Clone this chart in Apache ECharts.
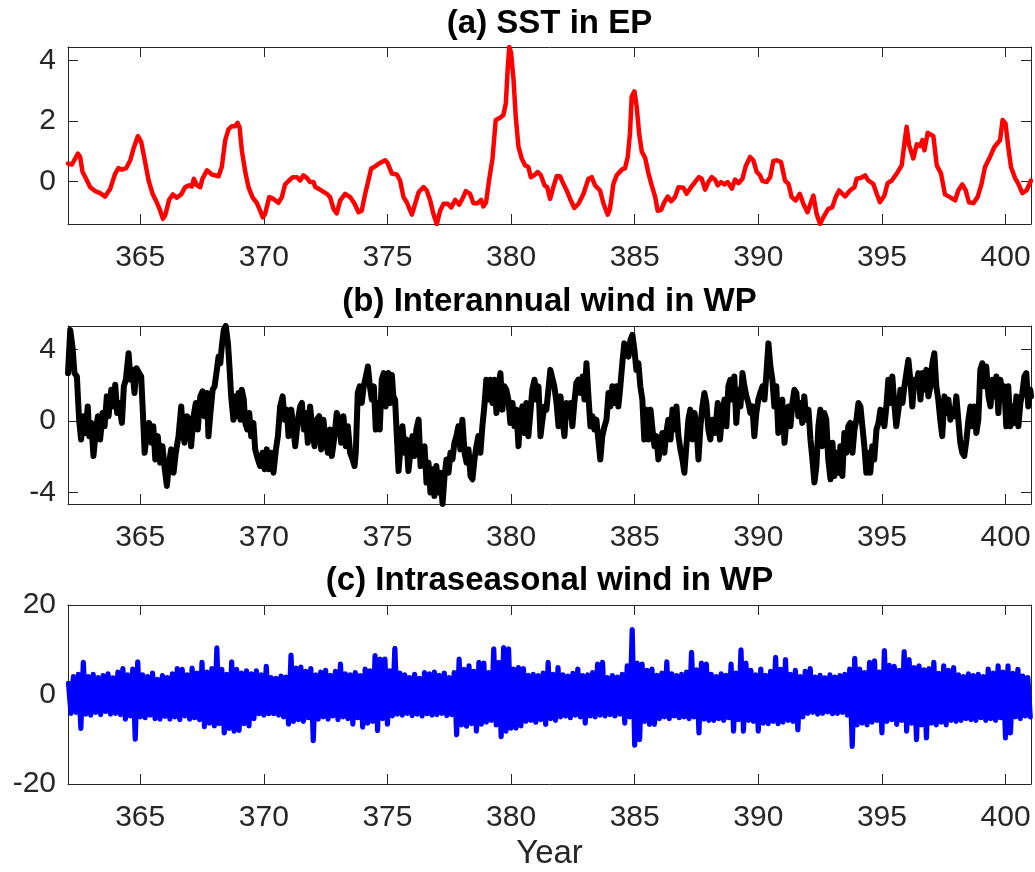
<!DOCTYPE html>
<html><head><meta charset="utf-8">
<script src="https://cdn.jsdelivr.net/npm/echarts@6/dist/echarts.min.js"></script>
<style>html,body{margin:0;padding:0;background:#fff}#c{width:1035px;height:872px}</style>
</head><body><div id="c"></div>
<script>
// ---- tick labels ----
const xTickYears = [365, 370, 375, 380, 385, 390, 395, 400];
const sstTicks = [0, 2, 4];
const interTicks = [-4, 0, 4];
const intraTicks = [-20, 0, 20];

// ---- titles ----
const panelTitles = ['(a) SST in EP', '(b) Interannual wind in WP', '(c) Intraseasonal wind in WP'];
const xLabel = 'Year';

// ---- (a) SST in EP: [year, value] ----
const sstSeries = [
[362.08,0.59],[362.24,0.56],[362.48,0.92],[362.57,0.81],[362.67,0.31],[362.78,0.14],[362.98,-0.19],[363.18,-0.32],[363.38,-0.39],[363.58,-0.5],
[363.79,-0.24],[363.99,0.26],[364.12,0.44],[364.26,0.39],[364.43,0.44],[364.6,0.7],[364.73,1.09],[364.91,1.5],[365.04,1.31],[365.2,0.64],
[365.34,0.03],[365.5,-0.41],[365.67,-0.69],[365.81,-0.97],[365.92,-1.24],[366.01,-1.13],[366.17,-0.61],[366.32,-0.43],[366.48,-0.54],[366.66,-0.43],
[366.82,-0.19],[366.98,-0.13],[367.09,-0.17],[367.17,0.09],[367.29,-0.13],[367.43,-0.19],[367.52,0.09],[367.7,0.37],[367.9,0.23],[368.17,0.17],
[368.3,0.48],[368.44,1.37],[368.57,1.72],[368.71,1.83],[368.84,1.83],[368.94,1.94],[369.02,1.79],[369.11,1.03],[369.25,0.31],[369.38,-0.19],
[369.54,-0.52],[369.72,-0.72],[369.85,-0.97],[369.96,-1.19],[370.05,-1.08],[370.22,-0.52],[370.39,-0.58],[370.59,-0.71],[370.73,-0.52],[370.86,-0.1],
[371.02,0.03],[371.17,0.14],[371.34,0.14],[371.47,0.03],[371.6,0.2],[371.74,0.12],[371.87,-0.02],[372.01,-0.02],[372.08,-0.19],[372.21,-0.24],
[372.37,-0.32],[372.55,-0.41],[372.68,-0.52],[372.82,-0.91],[372.95,-1.06],[373.09,-0.63],[373.29,-0.41],[373.49,-0.52],[373.67,-0.74],[373.83,-1.02],
[373.96,-0.97],[374.1,-0.41],[374.23,0.03],[374.34,0.42],[374.5,0.5],[374.7,0.61],[374.91,0.7],[375.0,0.62],
[375.18,0.26],[375.38,0.23],[375.51,0.03],[375.65,-0.52],[375.78,-0.69],[375.99,-1.1],[376.12,-0.74],[376.26,-0.36],[376.46,-0.19],[376.59,-0.3],
[376.73,-0.63],[376.86,-1.08],[377.0,-1.41],[377.13,-0.97],[377.27,-0.74],[377.44,-0.74],[377.58,-0.86],[377.74,-0.61],[377.9,-0.77],[378.03,-0.58],
[378.17,-0.32],[378.34,-0.41],[378.48,-0.72],[378.65,-0.72],[378.79,-0.61],[378.88,-0.83],[378.99,-0.69],[379.11,0.03],[379.25,0.76],[379.38,2.03],
[379.56,2.11],[379.69,2.2],[379.79,2.59],[379.87,3.81],[379.93,4.45],[380.0,4.26],[380.1,3.37],[380.19,2.14],[380.3,1.14],[380.43,0.76],
[380.57,0.53],[380.7,0.48],[380.8,0.14],[380.93,0.2],[381.08,0.31],[381.21,0.2],[381.35,-0.13],[381.46,-0.19],[381.58,-0.58],[381.71,-0.19],
[381.85,0.18],[381.98,0.17],[382.12,-0.08],[382.25,-0.3],[382.39,-0.58],[382.56,-0.88],[382.73,-0.74],[382.93,-0.41],[383.13,0.09],[383.26,0.14],
[383.4,-0.13],[383.6,-0.3],[383.74,-0.74],[383.91,-1.1],[384.0,-0.91],[384.14,-0.08],[384.27,0.2],[384.48,0.39],[384.61,0.44],[384.72,0.81],
[384.81,1.59],[384.88,2.81],[384.99,2.98],[385.08,2.48],[385.18,1.59],[385.29,0.98],[385.42,0.79],[385.56,0.26],[385.69,-0.13],[385.83,-0.52],
[385.93,-0.97],[386.07,-0.94],[386.2,-0.69],[386.34,-0.5],[386.47,-0.66],[386.63,-0.52],[386.77,-0.19],[386.97,-0.21],[387.1,-0.41],[387.28,-0.19],
[387.44,-0.02],[387.6,0.14],[387.71,0.09],[387.85,-0.27],
[387.98,-0.02],[388.12,0.14],[388.25,0.06],[388.36,-0.13],[388.49,-0.02],[388.63,-0.1],[388.76,-0.02],[388.93,-0.24],[389.06,0.06],[389.2,-0.06],
[389.36,0.09],[389.49,0.5],[389.67,0.81],[389.8,0.7],[389.94,0.31],[390.07,0.2],[390.17,0.01],[390.34,-0.02],[390.48,0.14],[390.61,0.68],
[390.75,0.7],[390.92,0.64],[391.08,0.03],[391.22,-0.08],[391.35,-0.52],[391.51,-0.63],[391.68,-0.41],[391.82,-0.74],[391.99,-1.02],[392.11,-0.74],
[392.23,-0.47],[392.36,-1.08],[392.5,-1.41],[392.63,-1.19],[392.83,-0.91],[392.99,-0.86],[393.13,-0.52],[393.27,-0.3],[393.51,-0.5],[393.71,-0.3],
[393.89,-0.19],[393.98,0.09],[394.16,0.12],[394.32,0.2],[394.45,0.03],[394.65,-0.08],[394.79,-0.41],[394.92,-0.69],[395.1,-0.47],[395.23,-0.06],
[395.4,0.03],[395.6,0.26],[395.8,0.53],[395.91,1.26],[396.0,1.81],[396.1,1.2],[396.27,0.76],[396.41,1.23],[396.54,1.17],[396.64,1.37],
[396.72,1.03],[396.85,1.61],[397.08,1.5],[397.22,0.53],[397.39,0.26],[397.55,-0.43],[397.75,-0.52],[397.96,-0.63],[398.09,-0.3],[398.25,-0.1],
[398.39,-0.3],[398.52,-0.69],[398.7,-0.72],[398.87,-0.52],[399.03,-0.08],[399.17,0.48],[399.37,0.81],[399.55,1.14],[399.78,1.37],[399.88,2.03],
[400.0,1.92],[400.11,1.14],[400.22,0.48],[400.38,0.12],[400.52,-0.08],[400.68,-0.39],[400.85,-0.3],[401.03,0.03]
];

// ---- (b) Interannual wind in WP: [year, value] ----
const interSeries = [
[362.08,2.67],[362.17,5.07],[362.26,4.15],[362.34,2.67],[362.44,2.48],[362.48,1.37],[362.53,0.07],[362.61,-1.04],[362.71,0.26],[362.78,-0.67],
[362.88,0.81],[362.94,-0.85],[363.02,-0.11],[363.11,-1.96],[363.21,-0.48],[363.29,0.26],[363.38,-1.04],[363.48,0.44],[363.56,-0.3],[363.65,1.37],
[363.72,0.26],[363.83,1.74],[363.92,0.81],[363.99,2.02],[364.07,0.44],[364.15,1.0],[364.26,-0.11],[364.34,1.93],[364.42,2.3],[364.53,3.78],
[364.61,2.3],[364.69,2.85],[364.77,1.56],[364.85,2.94],[364.96,2.67],[365.04,2.48],[365.11,0.44],[365.18,-1.78],[365.27,-0.67],[365.36,-0.11],
[365.45,-1.22],[365.53,-0.3],[365.61,-2.15],[365.71,-0.85],[365.81,-2.33],[365.9,-1.41],[365.98,-2.52],[366.08,-3.63],[366.17,-2.33],[366.25,-1.59],
[366.35,-2.89],[366.44,-1.78],[366.55,-0.85],[366.66,0.81],[366.71,-0.3],[366.79,-1.22],[366.89,0.26],[366.98,0.07],[367.06,-1.41],[367.16,0.26],
[367.25,1.0],[367.33,-0.48],[367.43,1.37],[367.52,1.65],[367.6,0.26],[367.7,1.56],[367.76,-0.85],[367.84,0.44],[367.93,1.74],[368.01,1.93],
[368.1,2.85],[368.17,3.59],[368.24,3.22],[368.3,4.15],[368.38,5.07],[368.46,5.3],[368.55,4.33],[368.61,3.04],[368.68,1.37],[368.77,0.07],
[368.84,1.37],[368.91,0.26],[368.98,1.56],[369.06,0.07],[369.11,1.74],[369.19,1.19],[369.25,-0.11],[369.33,-0.48],[369.41,0.44],[369.49,-0.85],
[369.58,-0.11],[369.65,-1.59],[369.76,-2.15],[369.85,-2.52],[369.95,-1.78],[370.03,-2.7],[370.12,-1.59],[370.19,-2.7],[370.3,-1.78],[370.39,-2.89],
[370.49,-1.59],[370.57,-0.85],[370.66,0.81],[370.76,1.37],[370.84,0.07],[370.93,0.63],[371.0,-0.85],[371.11,0.63],[371.2,-0.48],[371.27,-1.41],
[371.38,0.07],[371.47,0.81],[371.54,1.0],[371.62,-0.48],[371.7,0.44],[371.78,-1.22],[371.87,0.81],[371.97,-0.48],[372.05,-1.41],[372.14,0.07],
[372.24,0.26],[372.32,-1.59],[372.41,0.07],[372.48,-0.85],[372.59,-1.78],[372.68,-0.48],[372.75,-1.96],[372.86,-0.85],[372.95,0.44],[373.05,0.07],
[373.13,-1.22],[373.22,0.26],[373.32,-1.41],[373.4,-0.3],[373.49,-1.78],[373.59,-2.15],[373.67,-2.52],[373.72,-1.78],[373.8,1.56],[373.88,1.93],
[373.96,1.0],[374.04,1.93],[374.13,2.48],[374.21,3.04],[374.29,1.93],[374.37,1.19],[374.45,1.93],[374.53,-0.48],[374.61,1.0],[374.69,-0.48],
[374.77,2.3],[374.85,2.67],[374.93,0.81],
[375.04,2.67],[375.11,1.0],[375.18,2.57],[375.24,1.37],[375.31,1.19],[375.38,-0.85],
[375.45,-2.8],[375.53,-1.41],[375.61,-0.3],[375.69,-1.78],[375.77,-1.04],[375.85,-2.8],[375.93,-1.78],[376.01,-0.85],[376.09,-1.96],[376.17,-0.48],
[376.26,0.07],[376.34,-2.52],[376.42,-2.15],[376.5,-1.41],[376.58,-3.44],[376.66,-2.33],[376.74,-4.0],[376.82,-2.7],[376.9,-4.19],[376.98,-2.52],
[377.06,-4.0],[377.14,-2.89],[377.23,-4.64],[377.31,-3.07],[377.39,-2.15],[377.47,-2.89],[377.55,-1.78],[377.63,-2.15],[377.71,-1.22],[377.79,-0.85],
[377.87,-0.3],[377.95,-1.59],[378.03,0.07],[378.12,-1.78],[378.2,-2.33],[378.28,-1.59],[378.36,-3.07],[378.44,-3.26],[378.52,-2.15],[378.6,-1.41],
[378.68,-0.85],[378.76,-1.78],[378.84,-0.3],[378.92,0.81],[379.0,2.3],[379.09,1.19],[379.17,2.3],[379.25,1.0],[379.33,2.3],[379.41,0.44],
[379.49,1.93],[379.57,2.67],[379.65,0.63],[379.73,1.93],[379.81,1.74],[379.89,1.19],[379.97,-0.11],[380.06,1.0],[380.14,-0.3],[380.22,0.63],
[380.3,-1.41],[380.38,0.26],[380.46,0.81],[380.54,-0.67],[380.62,1.0],[380.7,-0.85],[380.78,0.44],[380.86,1.74],[380.95,2.3],[381.03,1.19],
[381.11,1.93],[381.19,-0.85],[381.27,0.07],[381.35,0.81],[381.43,0.63],[381.51,1.74],[381.59,2.85],[381.67,2.85],[381.75,1.93],[381.84,1.0],
[381.92,-0.3],[382.0,1.37],[382.08,0.07],[382.16,-0.85],[382.24,1.0],[382.32,0.26],[382.4,1.0],[382.48,-0.3],[382.56,1.0],[382.64,2.11],
[382.72,2.3],[382.81,1.56],[382.89,2.48],[382.97,1.19],[383.05,3.22],[383.13,1.37],[383.21,-0.3],[383.29,0.26],[383.37,-0.48],[383.45,0.07],
[383.53,-1.04],[383.61,-2.15],[383.69,-0.85],[383.78,-0.3],[383.86,0.07],[383.94,1.56],[384.02,0.81],[384.1,1.93],[384.18,1.0],[384.26,1.93],
[384.34,0.81],[384.42,1.93],[384.5,3.22],[384.58,4.33],[384.67,4.15],[384.75,3.59],[384.83,4.52],[384.91,4.8],[384.99,3.96],[385.07,2.85],
[385.15,3.22],[385.23,1.93],[385.31,1.19],[385.39,-1.04],[385.47,0.63],[385.56,-1.04],[385.64,0.63],[385.72,-0.48],[385.8,-1.41],[385.88,-0.85],
[385.96,-2.15],[386.04,-1.41],[386.12,-0.67],[386.2,-1.78],[386.28,-0.67],[386.36,0.07],[386.45,-1.04],[386.53,0.63],[386.61,-0.48],[386.69,0.81],
[386.77,-0.85],[386.85,-1.59],[386.93,-2.15],[387.01,-2.89],[387.09,-1.41],[387.17,0.07],[387.25,0.63],[387.34,-1.04],[387.42,0.44],[387.5,-0.3],
[387.58,-2.15],[387.66,-0.3],[387.74,0.81],[387.82,1.56],[387.9,1.0],[387.98,-0.48],[388.06,-1.04],[388.14,0.07],[388.22,-0.11],
[388.25,-0.67],[388.36,1.0],[388.45,-1.04],[388.55,0.44],
[388.63,1.19],[388.71,-0.3],[388.79,1.93],[388.87,2.3],[388.95,1.19],[389.03,2.48],[389.11,-0.11],[389.2,1.74],[389.28,0.81],[389.36,2.67],
[389.44,1.93],[389.52,1.37],[389.6,1.0],[389.68,0.44],[389.76,0.81],[389.84,-0.85],[389.92,0.44],[390.0,1.19],[390.08,1.56],[390.17,1.93],
[390.25,1.19],[390.33,2.67],[390.41,4.33],[390.49,3.04],[390.57,2.3],[390.65,0.81],[390.73,1.93],[390.81,-0.67],[390.89,1.0],[390.97,1.19],
[391.06,-1.22],[391.14,0.07],[391.22,0.81],[391.3,-0.3],[391.38,1.0],[391.46,1.74],[391.54,1.56],[391.62,0.26],[391.7,1.0],[391.78,-0.11],
[391.86,1.37],[391.94,0.07],[392.03,0.63],[392.11,-1.04],[392.19,-2.15],[392.27,-3.44],[392.35,-2.52],[392.43,-0.3],[392.51,0.63],[392.59,-1.41],
[392.67,0.44],[392.75,0.07],[392.83,-2.15],[392.92,-3.26],[393.0,-1.22],[393.08,-3.07],[393.16,-1.78],[393.24,-2.89],[393.32,-1.41],[393.4,-3.07],
[393.48,-0.67],[393.56,-1.78],[393.64,-0.3],[393.72,-0.11],[393.81,-1.78],[393.89,-0.48],[393.97,0.07],[394.05,1.0],[394.13,0.81],[394.21,-0.3],
[394.29,-1.41],[394.37,-2.89],[394.45,-1.78],[394.53,-2.89],[394.61,-1.41],[394.69,-2.15],[394.78,-0.48],[394.86,-0.11],[394.94,0.63],[395.02,0.44],
[395.1,-0.3],[395.18,0.81],[395.26,2.3],[395.34,1.0],[395.42,2.48],[395.5,1.0],[395.58,-0.3],[395.67,0.63],[395.75,1.74],[395.83,1.0],
[395.91,1.93],[395.99,2.67],[396.07,3.41],[396.15,2.3],[396.23,0.81],[396.31,2.3],[396.39,1.93],[396.47,2.67],[396.56,1.19],[396.64,2.67],
[396.72,1.74],[396.8,2.85],[396.88,1.37],[396.96,1.93],[397.04,3.22],[397.12,3.78],[397.2,1.93],[397.28,1.19],[397.36,0.07],[397.44,-0.85],
[397.53,1.37],[397.61,0.44],[397.69,1.19],[397.77,0.07],[397.85,0.63],[397.93,0.26],[398.01,1.37],[398.09,0.07],[398.17,-1.22],[398.25,-1.78],
[398.33,-1.96],[398.42,-1.04],[398.5,0.07],[398.58,0.81],[398.66,-0.3],[398.74,0.81],[398.82,-0.67],[398.9,0.07],[398.98,2.85],[399.06,3.22],
[399.14,1.93],[399.22,3.04],[399.31,1.37],[399.39,0.81],[399.47,2.3],[399.55,1.37],[399.63,2.48],[399.71,0.44],[399.79,2.3],[399.87,1.56],
[399.95,1.93],[400.03,-0.3],[400.11,1.93],[400.2,-0.3],[400.28,0.81],[400.36,-0.11],[400.44,1.37],[400.52,-0.3],[400.6,1.0],[400.68,1.56],
[400.76,2.48],[400.84,2.67],[400.92,0.81],[401.0,1.74],[401.03,1.37]
];

// ---- (c) Intraseasonal wind in WP ----
// upper swings, one row per year at Y.1, Y.3, Y.5, Y.7, Y.9
const intraHigh = [
2.5,4.0,4.5,7.2,4.0,    4.5,3.8,4.2,4.6,3.7,    5.0,5.8,4.4,5.7,7.3,    4.4,4.0,4.8,3.4,4.2,
3.8,4.6,5.8,5.6,4.4,    5.9,4.8,7.2,5.0,5.8,    10.4,5.6,4.5,7.3,5.6,   4.8,5.3,4.6,5.3,4.4,
6.3,3.8,3.6,4.1,3.9,    8.8,5.9,6.1,5.2,5.8,    4.4,5.0,5.4,4.3,5.2,    6.8,4.6,4.4,4.9,4.2,
5.7,5.3,8.7,7.9,7.9,    5.3,10.3,4.8,4.4,3.8,   4.5,3.6,4.9,4.6,5.0,    4.3,4.8,3.8,4.9,7.9,
5.6,6.4,5.2,7.2,7.0,    4.9,10.2,7.2,10.5,10.2, 5.7,6.0,5.8,4.3,4.5,    4.2,4.8,7.2,4.5,6.0,
4.4,4.1,4.7,5.7,4.2,    4.4,4.9,6.8,7.2,3.8,    4.2,3.9,4.5,6.4,14.5,   7.0,6.8,5.4,5.7,4.3,
4.8,7.3,4.6,4.2,4.5,    5.0,9.4,5.5,7.0,6.8,    4.5,4.0,4.6,4.3,6.8,    4.8,10.0,7.0,5.4,4.4,
5.7,4.3,5.2,8.3,5.6,    7.8,4.5,5.4,4.0,5.2,    5.8,3.9,4.3,3.7,4.4,    3.9,4.2,4.5,5.7,8.1,
5.7,4.9,7.2,7.5,5.0,    9.8,6.5,6.3,5.4,9.6,    7.8,6.0,6.4,5.5,5.8,    7.2,4.7,6.4,5.4,6.0,
4.4,4.0,4.6,4.2,4.5,    4.0,5.7,4.8,6.4,5.0,    6.4,4.7,5.6,4.1,3.8
];
// lower swings, one row per year at Y.2, Y.4, Y.6, Y.8, Y+1.0
const intraLow = [
-4.2,-4.0,-7.6,-4.4,-4.6,   -4.0,-4.5,-3.8,-4.4,-4.2,   -4.5,-5.5,-4.8,-10.0,-5.0,  -5.2,-4.6,-5.4,-5.5,-4.9,
-5.5,-5.0,-5.6,-4.8,-5.5,   -5.2,-5.6,-7.2,-6.4,-7.0,   -6.5,-8.6,-7.6,-8.2,-8.0,   -6.5,-7.0,-5.4,-4.3,-4.6,
-4.3,-4.3,-4.6,-5.0,-6.6,   -6.0,-5.6,-6.0,-5.2,-10.3,  -5.5,-5.0,-5.5,-4.8,-5.6,   -5.0,-5.4,-6.6,-5.2,-7.3,
-6.4,-6.0,-8.1,-5.4,-6.6,   -4.8,-4.4,-4.6,-4.2,-4.7,   -4.4,-4.8,-4.3,-4.6,-4.5,   -4.2,-4.7,-4.5,-9.0,-6.8,
-7.1,-6.5,-8.2,-6.6,-6.2,   -5.8,-6.8,-9.4,-8.2,-7.5,   -7.5,-7.0,-6.0,-5.8,-6.2,   -5.6,-6.7,-5.4,-5.8,-5.0,
-4.8,-5.2,-4.6,-5.0,-6.4,   -4.8,-5.0,-4.6,-4.8,-4.5,   -4.8,-4.4,-6.4,-5.0,-11.3,  -10.1,-6.0,-6.7,-6.7,-5.4,
-5.0,-5.4,-4.8,-5.2,-5.0,   -5.4,-5.0,-8.6,-5.5,-5.8,   -5.8,-5.4,-5.8,-5.2,-8.2,   -5.6,-8.2,-5.8,-6.0,-8.2,
-6.4,-6.5,-6.0,-6.5,-6.2,   -5.8,-6.0,-7.9,-5.0,-4.2,   -4.0,-4.4,-4.2,-3.9,-4.3,   -4.2,-4.0,-4.6,-11.6,-6.8,
-6.4,-6.8,-6.2,-5.8,-8.6,   -6.0,-5.6,-6.7,-5.8,-8.2,   -6.4,-10.1,-6.8,-9.7,-6.4,  -6.8,-6.2,-6.8,-5.8,-6.0,
-5.8,-5.4,-5.6,-5.8,-5.2,   -5.8,-5.4,-5.8,-5.2,-9.7,   -8.6,-5.0,-5.4,-4.8,-5.0
];
const intraFirstYear = 362.1;
const intraSwingStep = 0.1;

// ---- build intraseasonal series from the swings ----
const intraSeries = [];
for (let i = 0; i < Math.min(intraHigh.length, intraLow.length); i++) {
  intraSeries.push([+(intraFirstYear + 2 * i * intraSwingStep).toFixed(2), intraHigh[i]]);
  intraSeries.push([+(intraFirstYear + (2 * i + 1) * intraSwingStep).toFixed(2), intraLow[i]]);
}

const FONT = '"Liberation Sans", Arial, Helvetica, sans-serif';
const AXC = '#262626';
const XMIN = 362.08, XMAX = 401.03;
const GL = 68, GW = 963;
const panels = [
  { top: 47,  height: 177, ymin: -1.41, ymax: 4.45, ticks: sstTicks,   data: sstSeries,   color: '#ff0000', width: 4.5, titleY: 24 },
  { top: 326, height: 178, ymin: -4.64, ymax: 5.3,  ticks: interTicks, data: interSeries, color: '#000000', width: 6,   titleY: 302 },
  { top: 605, height: 179, ymin: -20,   ymax: 20,   ticks: intraTicks, data: intraSeries, color: '#0000ff', width: 5.2, titleY: 581 }
];

const grid = [], xAxis = [], yAxis = [], series = [], graphic = [];
panels.forEach((p, i) => {
  grid.push({ left: GL, width: GW, top: p.top, height: p.height, containLabel: false });
  const line = { show: true, onZero: false, lineStyle: { color: AXC, width: 1 } };
  const tickX = { show: true, inside: true, length: 10, customValues: xTickYears, lineStyle: { color: AXC, width: 1 } };
  const tickY = { show: true, inside: true, length: 10, customValues: p.ticks, lineStyle: { color: AXC, width: 1 } };
  xAxis.push({ type: 'value', gridIndex: i, position: 'bottom', min: XMIN, max: XMAX,
    axisLine: line, axisTick: tickX, splitLine: { show: false },
    axisLabel: { show: true, customValues: xTickYears, fontSize: 30, fontFamily: FONT, color: AXC, margin: 34, verticalAlign: 'middle' } });
  xAxis.push({ type: 'value', gridIndex: i, position: 'top', min: XMIN, max: XMAX,
    axisLine: line, axisTick: tickX, splitLine: { show: false }, axisLabel: { show: false } });
  yAxis.push({ type: 'value', gridIndex: i, position: 'left', min: p.ymin, max: p.ymax,
    axisLine: line, axisTick: tickY, splitLine: { show: false },
    axisLabel: { show: true, customValues: p.ticks, fontSize: 30, fontFamily: FONT, color: AXC, margin: 12 } });
  yAxis.push({ type: 'value', gridIndex: i, position: 'right', min: p.ymin, max: p.ymax,
    axisLine: line, axisTick: tickY, splitLine: { show: false }, axisLabel: { show: false } });
  series.push({ type: 'line', xAxisIndex: 2 * i, yAxisIndex: 2 * i, data: p.data,
    showSymbol: false, symbol: 'none', clip: true, animation: false,
    lineStyle: { color: p.color, width: p.width, cap: 'round', join: 'round' } });
  graphic.push({ type: 'text', x: GL + GW / 2, y: p.titleY,
    style: { text: panelTitles[i], font: 'bold 33px ' + FONT, fill: '#000',
      align: 'center', verticalAlign: 'middle', textAlign: 'center', textVerticalAlign: 'middle' } });
});
graphic.push({ type: 'text', x: GL + GW / 2, y: 854,
  style: { text: xLabel, font: '33px ' + FONT, fill: AXC,
    align: 'center', verticalAlign: 'middle', textAlign: 'center', textVerticalAlign: 'middle' } });

const chart = echarts.init(document.getElementById('c'), null, { renderer: 'canvas' });
chart.setOption({ animation: false, backgroundColor: '#fff', grid, xAxis, yAxis, series, graphic });
</script>
</body></html>
